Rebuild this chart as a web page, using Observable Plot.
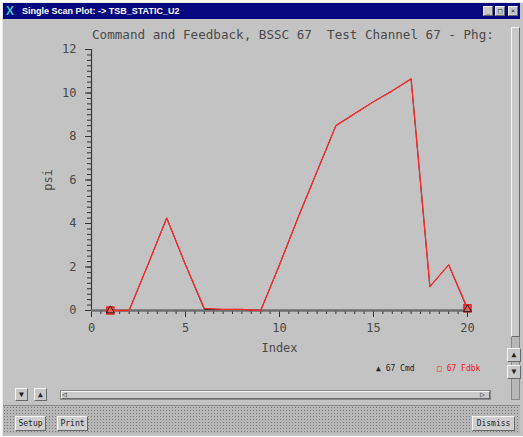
<!DOCTYPE html>
<html>
<head>
<meta charset="utf-8">
<script src="https://cdn.jsdelivr.net/npm/d3@7"></script>
<script src="https://cdn.jsdelivr.net/npm/@observablehq/plot@0.6"></script>
<style>
  html, body { margin: 0; padding: 0; }
  body { width: 523px; height: 437px; overflow: hidden; position: relative; background: #fafafa; font-family: "DejaVu Sans Mono", monospace; }
  .win { position: absolute; left: 2px; top: 2px; width: 520px; height: 433px; background: #c3c3c3; border-left: 1px solid #e8e8e8; border-top: 1px solid #e8e8e8; }
  .abs { position: absolute; }
  .titlebar { left: 3px; top: 3px; width: 517px; height: 16px; background: #06067e; color: #fff; font: bold 9px "Liberation Sans", sans-serif; line-height: 16px; }
  .btn { background: #c8c8c8; border-top: 1px solid #f4f4f4; border-left: 1px solid #f4f4f4; border-right: 1px solid #6a6a6a; border-bottom: 1px solid #6a6a6a; box-sizing: border-box; text-align: center; color: #222; }
  .panel { left: 3px; top: 405px; width: 517px; height: 28px; background-color: #b8b8b8; background-image: radial-gradient(#7a7a7a 0.8px, transparent 1px); background-size: 3px 3px; border-top: 1px solid #888; }
  .pbtn { font: 8px "DejaVu Sans Mono", monospace; line-height: 13px; background: #cfcfcf; }
  #chart { position: absolute; left: 0; top: 20px; }
</style>
</head>
<body>
<div class="win"></div>
<div class="abs titlebar"><span class="abs" style="left:3px;top:0;color:#3cc0c0;font-size:12px;">X</span><span class="abs" style="left:19px;top:0;">Single Scan Plot: -&gt; TSB_STATIC_U2</span></div>
<div class="abs btn" style="left:483px;top:6px;width:10px;height:10px;font-size:7px;line-height:8px;">_</div>
<div class="abs btn" style="left:495px;top:6px;width:10px;height:10px;font-size:7px;line-height:8px;">□</div>
<div class="abs btn" style="left:508px;top:6px;width:10px;height:10px;font-size:7px;line-height:8px;">×</div>

<div class="abs" id="title" style="left:92px;top:28px;width:414px;overflow:hidden;white-space:pre;font-size:12.6px;color:#4a4a4a;line-height:14px;">Command and Feedback, BSSC 67  Test Channel 67 - Phg:</div>

<div id="chart"></div>

<!-- right scrollbar -->
<div class="abs" style="left:511px;top:27px;width:9px;height:373px;background:#b8b8b8;border:1px solid #8a8a8a;box-sizing:border-box;"></div>
<div class="abs btn" style="left:511px;top:27px;width:9px;height:310px;background:#c9c9c9;"></div>
<div class="abs btn" style="left:507px;top:348px;width:14px;height:14px;font-size:8px;line-height:12px;">▲</div>
<div class="abs btn" style="left:507px;top:365px;width:14px;height:14px;font-size:8px;line-height:12px;">▼</div>

<!-- legend -->
<div class="abs" style="left:376px;top:364px;font-size:8px;color:#222;white-space:pre;">▲ 67 Cmd</div>
<div class="abs" style="left:437px;top:364px;font-size:8px;color:#f01818;white-space:pre;">□ 67 Fdbk</div>

<!-- bottom controls -->
<div class="abs btn" style="left:15px;top:388px;width:13px;height:13px;font-size:8px;line-height:11px;">▼</div>
<div class="abs btn" style="left:34px;top:388px;width:13px;height:13px;font-size:8px;line-height:11px;">▲</div>
<div class="abs" style="left:60px;top:390px;width:431px;height:10px;background:#b8b8b8;border:1px solid #8a8a8a;box-sizing:border-box;"></div>
<div class="abs btn" style="left:61px;top:391px;width:429px;height:8px;background:#cacaca;"></div>
<div class="abs" style="left:62px;top:390px;font-size:8px;line-height:9px;color:#444;">◁</div>
<div class="abs" style="left:480px;top:390px;font-size:8px;line-height:9px;color:#444;">▷</div>

<div class="abs panel"></div>
<div class="abs btn pbtn" style="left:15px;top:416px;width:31px;height:15px;">Setup</div>
<div class="abs btn pbtn" style="left:57px;top:416px;width:31px;height:15px;">Print</div>
<div class="abs btn pbtn" style="left:472px;top:416px;width:43px;height:15px;">Dismiss</div>

<script>
const index = [1, 2, 3, 4, 5, 6, 7, 8, 9, 10, 11, 12, 13, 14, 15, 16, 17, 18, 19, 20];
const cmd   = [0, 0, 2.1, 4.25, 2.1, 0.05, 0.05, 0.05, 0, 2.1, 4.3, 6.4, 8.5, 9.05, 9.6, 10.1, 10.65, 1.1, 2.1, 0.05];
const fdbk  = [0, 0, 2.1, 4.25, 2.1, 0.1, 0.05, 0.05, 0, 2.1, 4.3, 6.4, 8.5, 9.05, 9.6, 10.1, 10.65, 1.1, 2.1, 0.1];
const xTicks = [0, 5, 10, 15, 20];
const yTicks = [0, 2, 4, 6, 8, 10, 12];
const xMinor = d3.range(0, 20.01, 0.5);
const yMinor = d3.range(0, 12.01, 0.25);

const cmdData = index.map((x, i) => ({x, y: cmd[i]}));
const fdbkData = index.map((x, i) => ({x, y: fdbk[i]}));
const ends = d => d.x === index[0] || d.x === index[index.length - 1];

const chart = Plot.plot({
  width: 505,
  height: 345,
  marginLeft: 91,
  marginRight: 38,
  marginTop: 29,
  marginBottom: 55,
  style: {background: "transparent", fontFamily: "DejaVu Sans Mono, monospace", fontSize: "12px", color: "#4a4a4a"},
  x: {domain: [0, 20]},
  y: {domain: [0, 12]},
  marks: [
    Plot.axisY(yMinor, {tickSize: 4, tickPadding: 0, text: null, label: null, stroke: "#333"}),
    Plot.axisY(yTicks, {tickSize: 6, tickPadding: 9, label: "psi", labelAnchor: "center", labelArrow: "none", labelOffset: 48, stroke: "#333"}),
    Plot.axisX(xMinor, {tickSize: 4, text: null, label: null, stroke: "#333"}),
    Plot.axisX(xTicks, {tickSize: 7, tickPadding: 6, label: "Index", labelAnchor: "center", labelArrow: "none", labelOffset: 41, stroke: "#333"}),
    Plot.ruleX([0], {stroke: "#3a3a3a", strokeWidth: 1.2}),
    Plot.ruleY([0], {stroke: "#6e6e6e", strokeWidth: 2.5}),
    Plot.line(cmdData, {x: "x", y: "y", stroke: "#202020", strokeWidth: 0.9}),
    Plot.line(fdbkData, {x: "x", y: "y", stroke: "#ff2a2a", strokeWidth: 1.3}),
    Plot.dot(fdbkData.filter(ends), {x: "x", y: "y", symbol: "square", r: 4, stroke: "#f02020", fill: "#e06060", strokeWidth: 1.5}),
    Plot.dot(cmdData.filter(ends), {x: "x", y: "y", symbol: "triangle", r: 3, stroke: "#202020", fill: "none", strokeWidth: 1})
  ]
});
document.getElementById("chart").appendChild(chart);
</script>
</body>
</html>
